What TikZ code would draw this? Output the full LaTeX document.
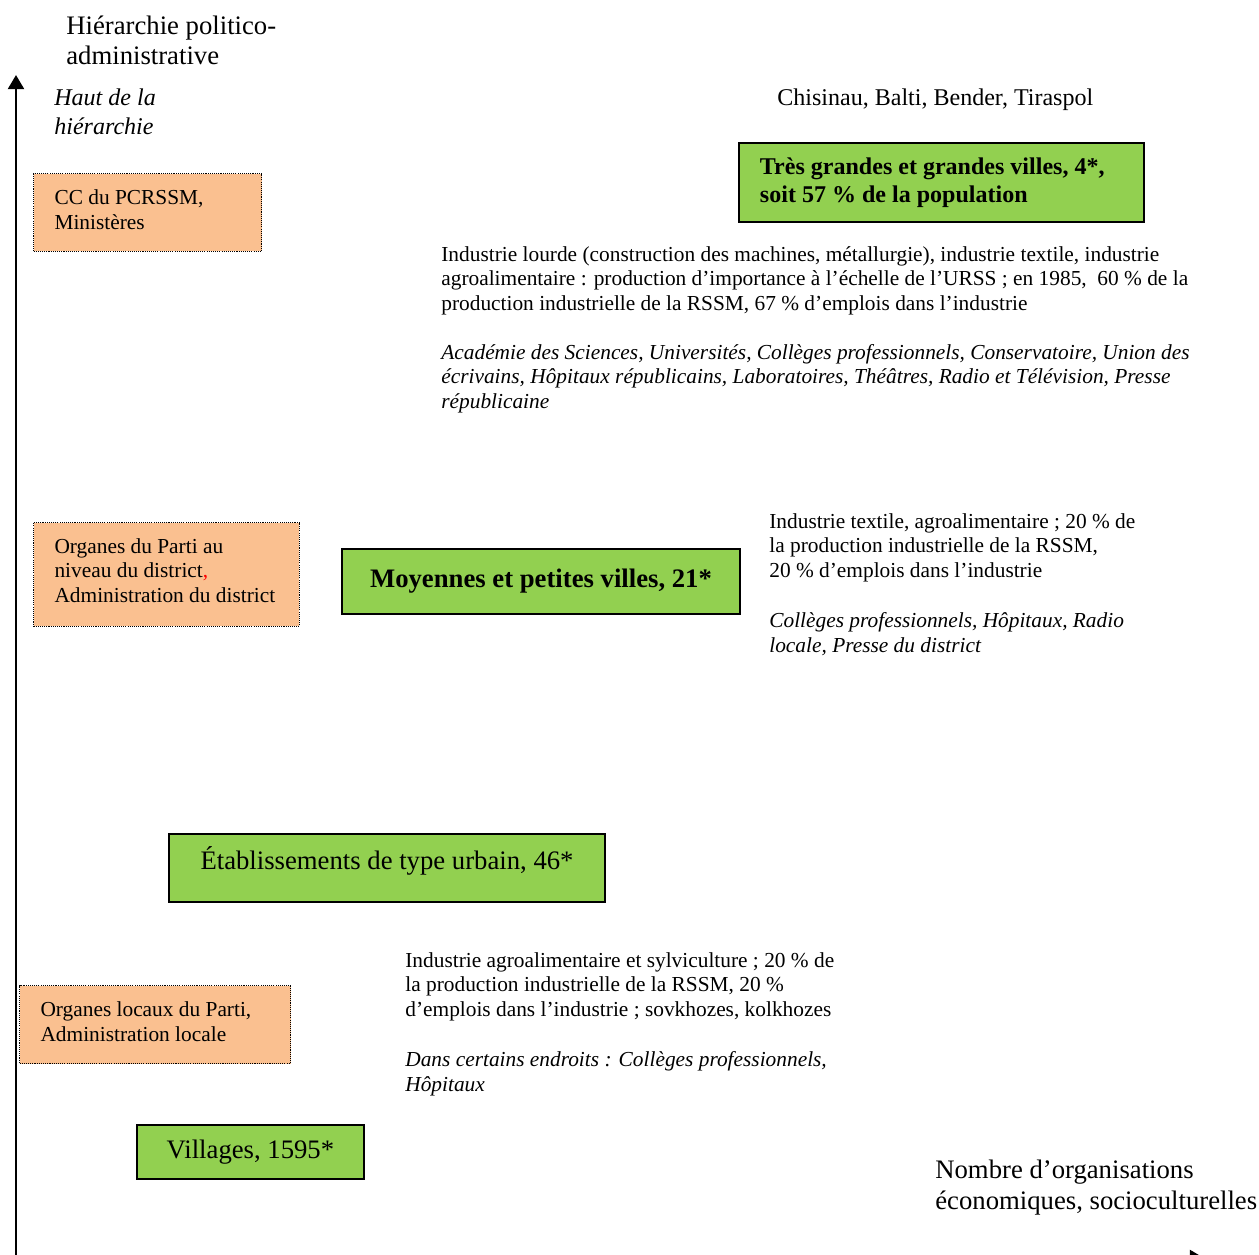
\documentclass[tikz,border=0pt]{standalone}
\usepackage{fontspec}
\setmainfont{Liberation Serif}
\usetikzlibrary{positioning,arrows.meta}

\definecolor{orgfill}{HTML}{FAC090}
\definecolor{villefill}{HTML}{92D050}

\newcommand{\txtn}{\fontsize{12}{13.8}\selectfont}
\newcommand{\txtm}{\fontsize{13.5}{16.3}\selectfont}
\newcommand{\txtg}{\fontsize{15}{17.4}\selectfont}
\hyphenpenalty=10000

\tikzset{
  orgbox/.style={draw, fill=orgfill, line width=0.6pt, dash pattern=on 0.6pt off 0.6pt,
    anchor=north west, align=flush left, font=\txtn, inner xsep=11.8pt, inner ysep=0pt},
  villebox/.style={draw, fill=villefill, line width=1.1pt, anchor=north west, inner sep=0pt},
  note/.style={anchor=base west, align=left, inner sep=0pt, font=\txtn},
  axe/.style={line width=1.5pt, -{Triangle[width=9pt,length=8pt]}},
}

\begin{document}
\begin{tikzpicture}[x=0.5618pt, y=-0.5618pt]
\useasboundingbox (0,0) rectangle (1259,1255);

\def\xo{16}
\def\yo{1258}

% axes
\coordinate (O) at (\xo, \yo);
\coordinate (ytop) at (\xo, 75);
\coordinate (xend) at (1204, \yo);
\draw[axe] (O) -- (ytop);
\draw[axe] (O) -- (xend);

% base = baseline of the last line
\node[note, font=\txtg] (hier) at (66, 65) {Hiérarchie politico-\\administrative};
\node[note, font=\txtm\itshape] (haut) at (54, 135) {Haut de la\\hiérarchie};
\node[note, font=\txtm] (chis) at (777, 105.5) {Chisinau, Balti, Bender, Tiraspol};
\node[note, font=\txtg] (nomb) at (935, 1209) {Nombre d’organisations\\économiques, socioculturelles};

% organes
\node[orgbox, text width=104.5pt, minimum width=128.1pt, minimum height=43.8pt] (cc) at (33, 173)
  {CC du PCRSSM,\\Ministères\rule[-3pt]{0pt}{0pt}};
\node[orgbox, text width=125.8pt, minimum width=149.4pt, minimum height=58.4pt] (orgd) at (33, 522)
  {Organes du Parti au\\niveau du district\textcolor{red}{,}\\Administration~du~district\rule[-4.5pt]{0pt}{0pt}};
\node[orgbox, text width=128.7pt, minimum width=152.3pt, minimum height=43.8pt] (orgl) at (19, 985)
  {Organes locaux du Parti,\\Administration locale\rule[-3pt]{0pt}{0pt}};

% villes
\node[villebox, align=flush left, inner xsep=11.8pt, text width=203.9pt, minimum width=227.5pt,
  minimum height=44.4pt, font=\fontsize{13.5}{15.7}\selectfont\bfseries] (gv) at (738, 142)
  {Très grandes et grandes villes, 4*,\\soit 57 \% de la population};
\node[villebox, minimum width=223.6pt, minimum height=36.5pt, font=\txtg\bfseries] (mpv) at (341, 548)
  {Moyennes et petites villes, 21*};
\node[villebox, minimum width=245pt, minimum height=38.2pt, text height=5pt, text depth=3.6pt,
  font=\txtg] (etu) at (168, 833) {Établissements de type urbain, 46*};
\node[villebox, minimum width=127.5pt, minimum height=30.3pt, font=\txtg] (vil) at (136, 1124)
  {Villages, 1595*};

% industrie et culture
\node[note] (indgv) at (441, 310.5)
  {Industrie lourde (construction des machines, métallurgie), industrie textile, industrie\\
   agroalimentaire : production d’importance à l’échelle de l’URSS ; en 1985, \ 60 \% de la\\
   production industrielle de la RSSM, 67 \% d’emplois dans l’industrie};
\node[note, font=\txtn\itshape] (culgv) at (441, 408.5)
  {Académie des Sciences, Universités, Collèges professionnels, Conservatoire, Union des\\
   écrivains, Hôpitaux républicains, Laboratoires, Théâtres, Radio et Télévision, Presse\\
   républicaine};
\node[note] (indmpv) at (769, 577.5)
  {Industrie textile, agroalimentaire ; 20 \% de\\
   la production industrielle de la RSSM,\\
   20 \% d’emplois dans l’industrie};
\node[note, font=\txtn\itshape] (culmpv) at (769, 652)
  {Collèges professionnels, Hôpitaux, Radio\\locale, Presse du district};
\node[note] (indvil) at (405, 1016.5)
  {Industrie agroalimentaire et sylviculture ; 20 \% de\\
   la production industrielle de la RSSM, 20 \%\\
   d’emplois dans l’industrie ; sovkhozes, kolkhozes};
\node[note, font=\txtn\itshape] (culvil) at (405, 1091)
  {Dans certains endroits : Collèges professionnels,\\Hôpitaux};

\end{tikzpicture}
\end{document}
